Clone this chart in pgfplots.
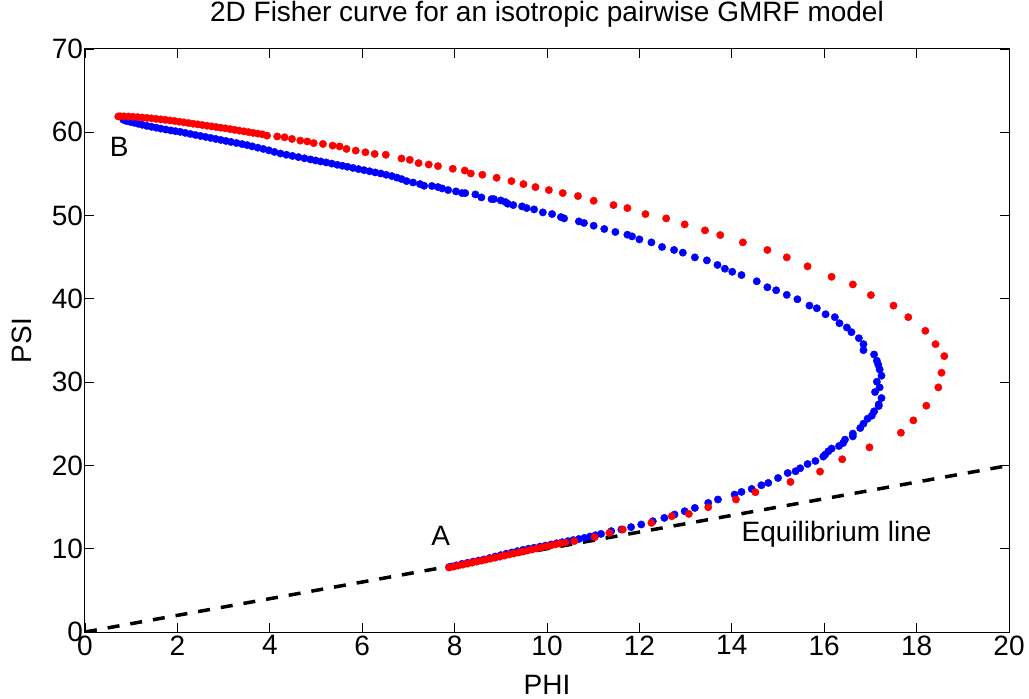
\documentclass[border=0pt]{standalone}
\usepackage{fontspec}
\setmainfont{Liberation Sans}
\usepackage{pgfplots}
\pgfplotsset{compat=1.18}

\begin{document}
\begin{tikzpicture}
\begin{axis}[
	name=ax,
	scale only axis,
	width=924pt, height=583pt,
	xmin=0, xmax=20, ymin=0, ymax=70,
	xtick={0,2,...,20}, ytick={0,10,...,70},
	tick align=inside,
	major tick length=9pt,
	tick style={black, line width=0.8pt},
	axis line style={black, line width=1pt},
	/pgf/number format/assume math mode=true,
	ticklabel style={font=\fontsize{28}{32}\selectfont},
	yticklabel style={xshift=1.5pt},
	title={2D Fisher curve for an isotropic pairwise GMRF model},
	title style={font=\fontsize{28}{32}\selectfont, at={(0.5,1.0369)}, anchor=base},
	xlabel={PHI},
	xlabel style={font=\fontsize{28}{32}\selectfont, at={(0.5,-0.108)}, anchor=base},
	ylabel={PSI},
	ylabel style={font=\fontsize{28}{32}\selectfont, at={(-0.0574,0.5)}, anchor=base},
]
% blue curve
\addplot[only marks, mark=*, mark size=3.7pt, color=blue] coordinates {
(0.83,61.50) (0.90,61.35) (0.98,61.25) (1.06,61.15) (1.15,61.02) (1.24,60.90)
(1.34,60.77) (1.44,60.66) (1.54,60.55) (1.64,60.44) (1.75,60.33) (1.86,60.22)
(1.96,60.13) (2.06,60.05) (2.17,59.93) (2.28,59.80) (2.39,59.68) (2.50,59.56)
(2.61,59.44) (2.72,59.32) (2.83,59.20) (2.94,59.08) (3.05,58.96) (3.16,58.84)
(3.28,58.71) (3.40,58.58) (3.51,58.46) (3.62,58.31) (3.74,58.15) (3.86,58.00)
(3.98,57.83) (4.10,57.64) (4.23,57.45) (4.36,57.30) (4.49,57.16) (4.62,57.02)
(4.75,56.88) (4.88,56.74) (4.99,56.62) (5.10,56.50) (5.22,56.38) (5.34,56.24)
(5.46,56.10) (5.57,55.98) (5.68,55.86) (5.80,55.72) (5.92,55.58) (6.04,55.45)
(6.16,55.32) (6.28,55.18) (6.40,55.05) (6.52,54.90) (6.64,54.74) (6.75,54.56)
(6.85,54.38) (6.96,54.14) (7.10,53.97) (7.25,53.78) (7.34,53.58) (7.51,53.55)
(7.64,53.42) (7.73,53.26) (7.86,53.06) (8.03,52.90) (8.16,52.70) (8.23,52.70)
(8.45,52.54) (8.58,52.18) (8.80,51.98) (8.85,51.98) (9.00,51.82) (9.10,51.62)
(9.15,51.42) (9.27,51.26) (9.46,51.10) (9.56,50.90) (9.72,50.74) (9.91,50.38)
(10.11,50.18) (10.30,49.82) (10.37,49.66) (10.69,49.30) (10.80,49.11) (11.01,48.78)
(11.24,48.39) (11.48,48.03) (11.74,47.70) (11.84,47.50) (12.00,47.14) (12.26,46.78)
(12.49,46.23) (12.75,45.87) (12.94,45.55) (13.20,44.98) (13.46,44.62) (13.69,44.07)
(13.85,43.62) (14.01,43.25) (14.21,42.86) (14.54,42.11) (14.77,41.39) (14.96,41.03)
(15.19,40.48) (15.42,39.95) (15.68,39.19) (15.84,38.87) (16.03,38.15) (16.23,37.80)
(16.33,37.07) (16.49,36.56) (16.59,36.00) (16.75,35.28) (16.85,34.56) (16.85,33.84)
(17.08,33.32) (17.14,32.57) (17.17,32.09) (17.20,31.52) (17.24,30.77) (17.14,30.05)
(17.20,29.37) (17.10,28.81) (17.24,28.09) (17.18,27.33) (17.18,27.13) (17.08,26.49)
(17.03,25.97) (16.94,25.61) (16.85,25.01) (16.78,24.49) (16.62,23.82) (16.62,23.49)
(16.45,23.10) (16.41,22.69) (16.32,22.33) (16.16,22.02) (16.09,21.70) (16.02,21.30)
(15.98,21.06) (15.81,20.53) (15.64,20.17) (15.48,19.66) (15.38,19.30) (15.21,19.09)
(15.00,18.49) (14.79,17.90) (14.64,17.62) (14.43,17.18) (14.21,16.82) (14.06,16.50)
(13.70,15.91) (13.49,15.50) (13.20,14.90) (12.98,14.50) (12.76,14.11) (12.54,13.70)
(12.29,13.30) (12.04,12.91) (11.82,12.59) (11.61,12.31) (11.39,12.11) (11.17,11.78)
(11.05,11.62) (10.93,11.46) (10.81,11.30) (10.69,11.17) (10.57,11.04) (10.45,10.91)
(10.33,10.78) (10.21,10.65) (10.09,10.51) (9.97,10.38) (9.85,10.25) (9.72,10.11)
(9.60,10.00) (9.48,9.86) (9.36,9.71) (9.24,9.55) (9.12,9.40) (9.00,9.23)
(8.88,9.06) (8.76,8.88) (8.64,8.71) (8.52,8.58) (8.40,8.45) (8.28,8.31)
(8.16,8.18) (8.04,8.00) (7.94,7.87) (7.88,7.79)
};
% red curve
\addplot[only marks, mark=*, mark size=3.7pt, color=red] coordinates {
(7.88,7.74) (7.98,7.85) (8.08,7.97) (8.18,8.09) (8.28,8.21) (8.38,8.33)
(8.48,8.45) (8.58,8.57) (8.68,8.69) (8.78,8.81) (8.88,8.93) (8.98,9.05)
(9.08,9.18) (9.18,9.30) (9.28,9.42) (9.38,9.54) (9.48,9.66) (9.58,9.78)
(9.68,9.91) (9.78,10.03) (9.88,10.15) (9.98,10.27) (10.08,10.39) (10.18,10.51)
(10.28,10.63) (10.40,10.75) (10.59,10.91) (11.03,11.39) (11.35,11.90) (11.64,12.31)
(12.26,13.10) (12.70,13.90) (13.07,14.18) (13.49,14.98) (14.09,15.91) (14.51,16.78)
(15.27,18.02) (15.91,19.26) (16.39,20.74) (16.98,22.17) (17.66,23.93) (17.93,25.41)
(18.21,27.17) (18.47,29.37) (18.54,31.13) (18.60,33.12) (18.41,34.56) (18.19,36.16)
(17.82,37.80) (17.50,39.19) (17.01,40.45) (16.62,41.73) (16.16,42.65) (15.64,43.90)
(15.19,44.98) (14.77,45.87) (14.24,46.78) (13.75,47.66) (13.42,48.22) (12.98,48.94)
(12.58,49.66) (12.13,50.18) (11.74,50.90) (11.44,51.26) (11.01,51.78) (10.67,52.34)
(10.34,52.70) (10.04,53.06) (9.75,53.42) (9.49,53.78) (9.23,54.14) (8.91,54.54)
(8.60,54.90) (8.35,55.05) (8.22,55.41) (7.96,55.62) (7.64,55.94) (7.44,56.13)
(7.22,56.30) (7.03,56.69) (6.85,56.85) (6.51,57.30) (6.27,57.40) (6.07,57.60)
(5.86,57.80) (5.66,58.00) (5.51,58.30) (5.36,58.40) (5.15,58.60) (4.95,58.70)
(4.81,58.90) (4.66,59.00) (4.48,59.20) (4.32,59.40) (4.16,59.50) (3.94,59.60)
(3.84,59.75) (3.74,59.84) (3.64,59.93) (3.54,60.02) (3.44,60.11) (3.34,60.20)
(3.24,60.29) (3.14,60.38) (3.04,60.47) (2.94,60.55) (2.84,60.63) (2.74,60.71)
(2.64,60.79) (2.54,60.87) (2.44,60.95) (2.34,61.03) (2.24,61.11) (2.14,61.19)
(2.04,61.27) (1.94,61.35) (1.84,61.42) (1.74,61.49) (1.64,61.55) (1.54,61.61)
(1.44,61.67) (1.34,61.72) (1.24,61.77) (1.14,61.82) (1.04,61.86) (0.94,61.89)
(0.84,61.91) (0.76,61.92) (0.72,61.90)
};
% equilibrium line
\addplot[black, line width=3.5pt, dash pattern=on 12pt off 11pt] coordinates {(0,0) (20,20)};
\node[anchor=base, inner sep=0pt, font=\fontsize{28}{32}\selectfont] at (axis cs:7.70,10.44) {A};
\node[anchor=base, inner sep=0pt, font=\fontsize{28}{32}\selectfont] at (axis cs:0.74,57.06) {B};
\node[anchor=base west, inner sep=0pt, font=\fontsize{28}{32}\selectfont] at (axis cs:14.21,10.84) {Equilibrium line};
\end{axis}
\pgfresetboundingbox
\path ([shift={(-85pt,-66pt)}]ax.south west) rectangle ([shift={(20pt,49pt)}]ax.north east);
\end{tikzpicture}
\end{document}
